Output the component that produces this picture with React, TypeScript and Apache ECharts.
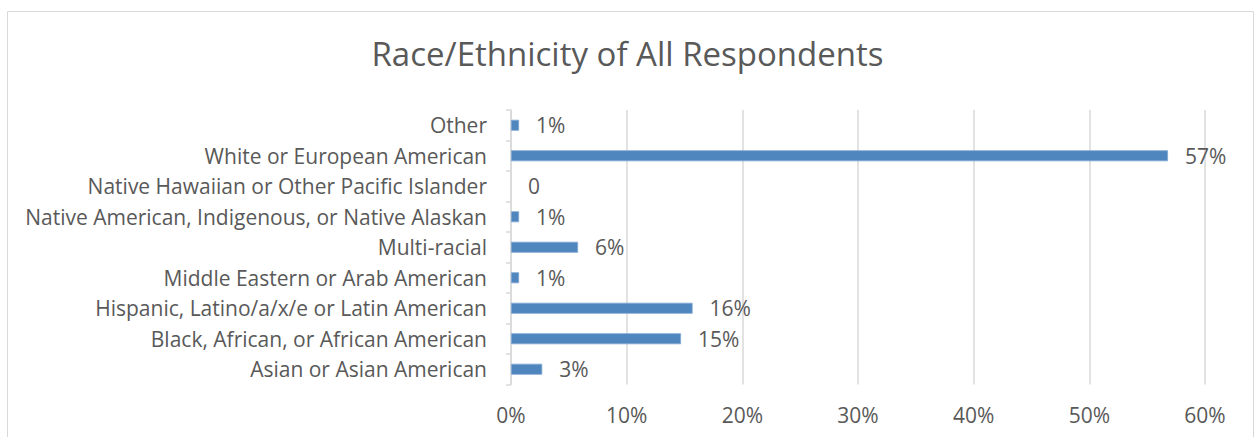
import React, { useEffect, useRef } from "react";
import * as echarts from "echarts";

const categories: string[] = [
  "Asian or Asian American",
  "Black, African, or African American",
  "Hispanic, Latino/a/x/e or Latin American",
  "Middle Eastern or Arab American",
  "Multi-racial",
  "Native American, Indigenous, or Native Alaskan",
  "Native Hawaiian or Other Pacific Islander",
  "White or European American",
  "Other",
];

const values: number[] = [2.7, 14.7, 15.7, 0.7, 5.8, 0.7, 0, 56.8, 0.7];

const labels: string[] = ["3%", "15%", "16%", "1%", "6%", "1%", "0", "57%", "1%"];

const xTicks: number[] = [0, 10, 20, 30, 40, 50, 60];

const FONT = "Open Sans";
const TEXT = "#595959";
const GRID = "#d9d9d9";

export default function App() {
  const ref = useRef<HTMLDivElement>(null);
  useEffect(() => {
    document.body.style.margin = "0";
    const chart = echarts.init(ref.current!, null, { renderer: "svg" });
    chart.setOption({
      animation: false,
      backgroundColor: "#ffffff",
      textStyle: { fontFamily: FONT, color: TEXT },
      title: {
        text: "Race/Ethnicity of All Respondents",
        left: "center",
        top: 32,
        textStyle: { fontFamily: FONT, fontSize: 33, fontWeight: "normal", color: TEXT },
      },
      graphic: [
        {
          type: "rect",
          shape: { x: 7.5, y: 11.5, width: 1246, height: 440 },
          style: { fill: "none", stroke: GRID, lineWidth: 1 },
          silent: true,
        },
      ],
      grid: { left: 511, right: 50, top: 110, bottom: 52.5, containLabel: false },
      xAxis: {
        type: "value",
        min: xTicks[0],
        max: xTicks[xTicks.length - 1],
        interval: 10,
        axisLine: { show: false },
        axisTick: { show: false },
        axisLabel: {
          formatter: (v: number) => `${v}%`,
          fontFamily: FONT,
          fontSize: 21,
          color: TEXT,
          margin: 20,
        },
        splitLine: { show: true, lineStyle: { color: GRID, width: 1.5 } },
      },
      yAxis: {
        type: "category",
        data: categories,
        axisLine: { show: true, lineStyle: { color: GRID, width: 1.5 } },
        axisTick: { show: true, length: 5, lineStyle: { color: GRID, width: 1.5 } },
        axisLabel: { fontFamily: FONT, fontSize: 21, color: TEXT, margin: 24 },
        splitLine: { show: false },
      },
      series: [
        {
          type: "bar",
          data: values.map((v) => ({
            value: v,
            itemStyle: v === 0 ? { borderWidth: 0 } : undefined,
          })),
          barWidth: 11,
          itemStyle: { color: "#4f86bd", borderColor: "#7fa7d2", borderWidth: 0.8 },
          label: {
            show: true,
            position: "right",
            distance: 17,
            formatter: (p: any) => labels[p.dataIndex],
            fontFamily: FONT,
            fontSize: 21,
            color: TEXT,
          },
        },
      ],
    });
    return () => chart.dispose();
  }, []);
  return <div ref={ref} style={{ width: 1255, height: 437 }} />;
}
